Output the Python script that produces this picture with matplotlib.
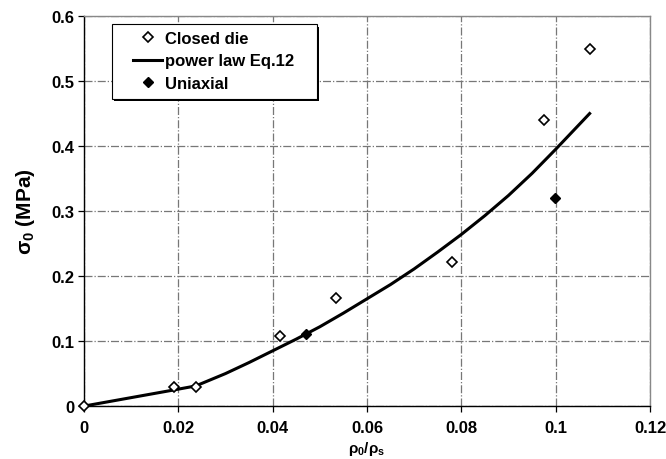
"""Yield stress against relative density: closed-die data, uniaxial data and power-law fit."""

import matplotlib

matplotlib.use("Agg")
from matplotlib import pyplot as plt
from matplotlib.patches import Rectangle

# closed die compaction
closed_die_x = [0.0, 0.0192, 0.0237, 0.0415, 0.0535, 0.078, 0.0976, 0.1072]
closed_die_y = [0.0, 0.029, 0.030, 0.108, 0.167, 0.221, 0.44, 0.549]

# power law fit (Eq. 12)
power_law_x = [0.0, 0.0192, 0.0237, 0.03, 0.035, 0.04, 0.045, 0.05, 0.055,
               0.06, 0.065, 0.07, 0.075, 0.08, 0.085, 0.09, 0.095, 0.1, 0.1072]
power_law_y = [0.0, 0.025, 0.031, 0.050, 0.067, 0.085, 0.103, 0.122, 0.143,
               0.165, 0.187, 0.211, 0.237, 0.264, 0.293, 0.324, 0.358, 0.395, 0.45]

# uniaxial compression
uniaxial_x = [0.0471, 0.0999]
uniaxial_y = [0.111, 0.32]

x_ticks = [0, 0.02, 0.04, 0.06, 0.08, 0.1, 0.12]
x_tick_labels = ["0", "0.02", "0.04", "0.06", "0.08", "0.1", "0.12"]
y_ticks = [0, 0.1, 0.2, 0.3, 0.4, 0.5, 0.6]
y_tick_labels = ["0", "0.1", "0.2", "0.3", "0.4", "0.5", "0.6"]

plt.rcParams["font.family"] = ["Liberation Sans", "DejaVu Sans"]
plt.rcParams["font.weight"] = "bold"
plt.rcParams["mathtext.fontset"] = "custom"
plt.rcParams["mathtext.rm"] = "Liberation Sans:bold"
plt.rcParams["mathtext.it"] = "Liberation Sans:bold"
plt.rcParams["mathtext.bf"] = "Liberation Sans:bold"

fig = plt.figure(figsize=(6.66, 4.6), dpi=100)
ax = fig.add_axes([0.126, 0.115, 0.850, 0.848])

ax.plot(
    closed_die_x,
    closed_die_y,
    linestyle="none",
    marker="D",
    markersize=5.5,
    markerfacecolor="white",
    markeredgecolor="black",
    markeredgewidth=1.2,
    label="Closed die",
    zorder=4,
    clip_on=False,
)
ax.plot(
    power_law_x,
    power_law_y,
    color="black",
    linewidth=2.2,
    label="power law Eq.12",
    zorder=3,
)
ax.plot(
    uniaxial_x,
    uniaxial_y,
    linestyle="none",
    marker="D",
    markersize=5.5,
    markerfacecolor="black",
    markeredgecolor="black",
    label="Uniaxial",
    zorder=4,
)

ax.set_xlim(0, 0.12)
ax.set_ylim(0, 0.6)
ax.set_xticks(x_ticks)
ax.set_xticklabels(x_tick_labels, fontsize=12, fontweight="bold")
ax.set_yticks(y_ticks)
ax.set_yticklabels(y_tick_labels, fontsize=12, fontweight="bold")
ax.tick_params(axis="both", direction="out", length=4, width=0.9, pad=3)
ax.tick_params(axis="x", pad=6)

ax.grid(True, color="#777777", linestyle="-.", linewidth=0.9)
ax.set_axisbelow(True)

for side in ("left", "bottom"):
    ax.spines[side].set_color("black")
    ax.spines[side].set_linewidth(1.0)
for side in ("top", "right"):
    ax.spines[side].set_color("#888888")
    ax.spines[side].set_linewidth(1.0)

ax.set_xlabel(r"$\rho_0/\rho_s$", fontsize=11, labelpad=3)
ax.set_ylabel(r"$\sigma_0$ (MPa)", fontsize=15, fontweight="bold", labelpad=10)

# legend frame with a drop shadow, drawn separately from the entries
frame_x, frame_y, frame_w, frame_h = 0.0495, 0.787, 0.362, 0.192
shadow_dx, shadow_dy = 0.004, -0.006
ax.add_patch(
    Rectangle(
        (frame_x + shadow_dx, frame_y + shadow_dy),
        frame_w,
        frame_h,
        transform=ax.transAxes,
        facecolor="black",
        edgecolor="none",
        zorder=5,
    )
)
ax.add_patch(
    Rectangle(
        (frame_x, frame_y),
        frame_w,
        frame_h,
        transform=ax.transAxes,
        facecolor="white",
        edgecolor="black",
        linewidth=0.8,
        zorder=5.1,
    )
)

legend = ax.legend(
    loc="upper left",
    bbox_to_anchor=(0.0866, 0.962),
    frameon=False,
    handlelength=1.75,
    handletextpad=0.2,
    borderpad=0.0,
    borderaxespad=0.0,
    labelspacing=0.45,
    prop={"weight": "bold", "size": 12},
)
legend.set_zorder(6)

fig.savefig("out.png", dpi=100)
